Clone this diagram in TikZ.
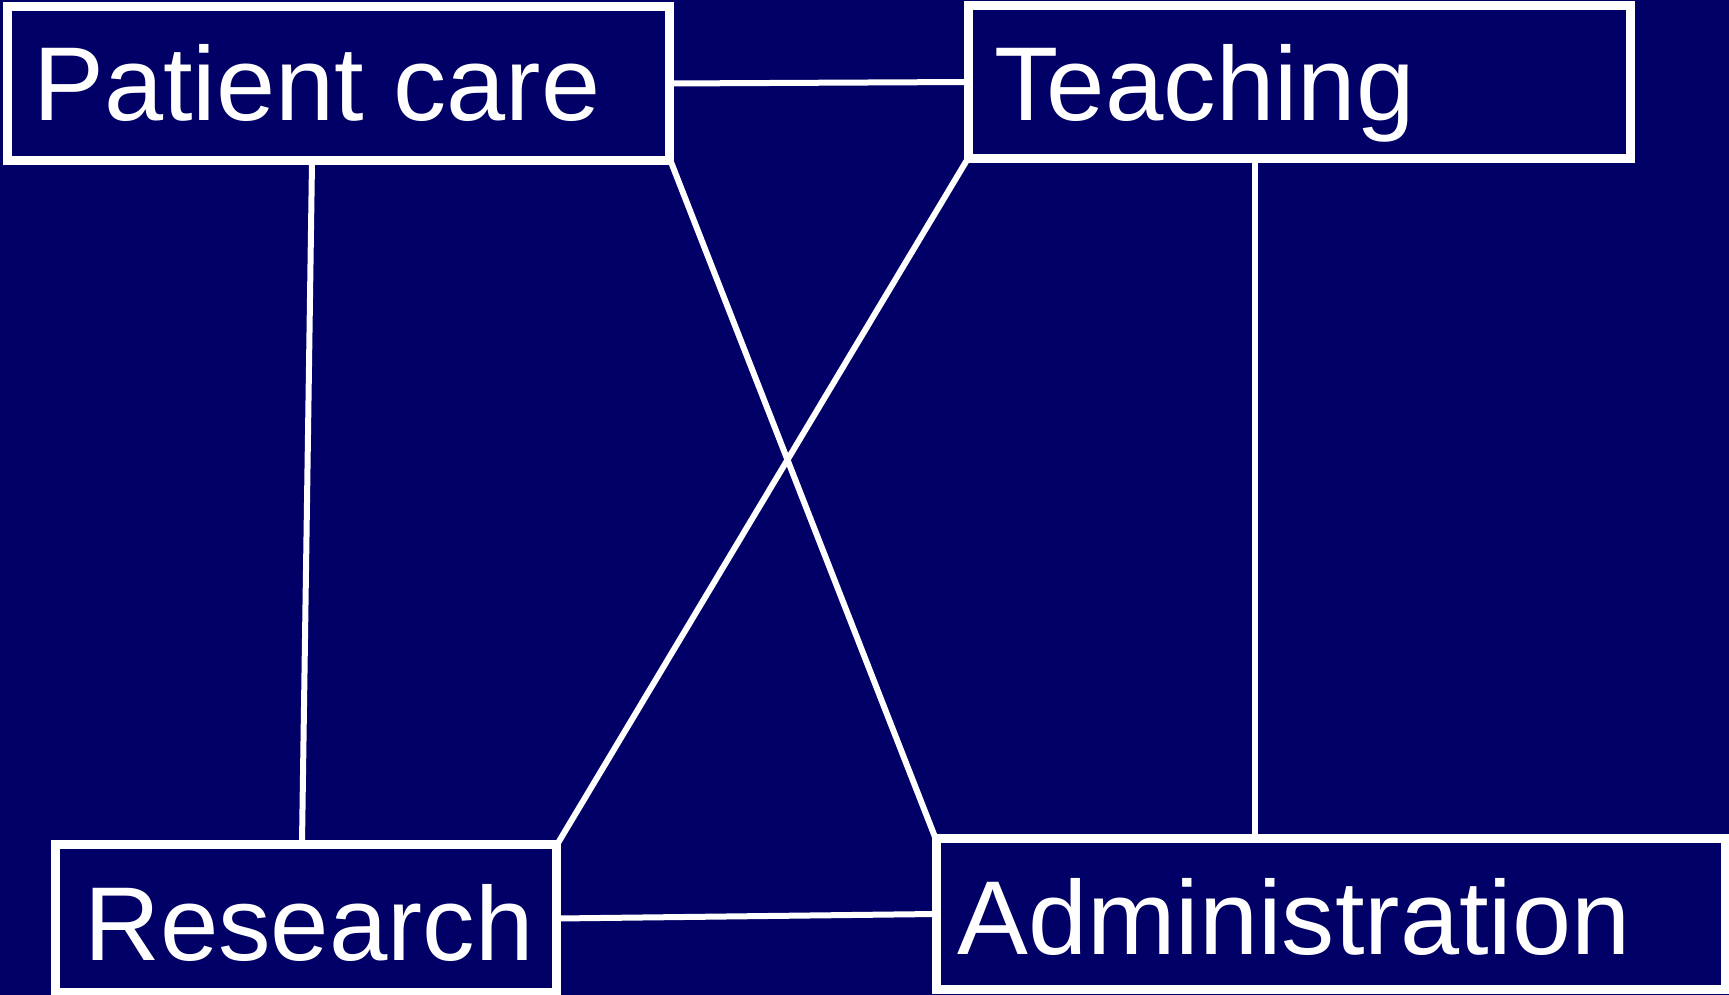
\documentclass[tikz,border=0pt]{standalone}
\usepackage{fontspec}
\setmainfont{Liberation Sans}
\definecolor{navy}{RGB}{0,0,102}
\begin{document}
\begin{tikzpicture}[x=1pt,y=-1pt,
  box/.style={draw=white,line width=6pt,rectangle,inner sep=0pt,fill=navy},
  lbl/.style={anchor=base west,inner sep=0pt,text=white,font=\fontsize{105}{120}\selectfont},
  conn/.style={draw=white,line width=6pt}]
\fill[navy] (0,0) rectangle (1729,995);
\useasboundingbox (0,0) rectangle (1729,995);
% boxes
\node[box,minimum width=659pt,minimum height=151pt] (pc) at (338.5,83.5) {};
\node[box,minimum width=659pt,minimum height=150pt] (te) at (1299.5,82) {};
\node[box,minimum width=498pt,minimum height=145pt] (re) at (306,918.5) {};
\node[box,minimum width=786pt,minimum height=148pt] (ad) at (1331,914) {};
% connectors
\draw[conn] (pc.east) -- (te.west);
\draw[conn] ([xshift=306pt]pc.south west) -- ([xshift=248pt]re.north west);
\draw[conn] (pc.south east) -- (ad.north west);
\draw[conn] (te.south west) -- (re.north east);
\draw[conn] ([xshift=288pt]te.south west) -- ([xshift=320pt]ad.north west);
\draw[conn] (re.east) -- (ad.west);
% redraw box borders on top
\foreach \n in {pc,te,re,ad}{\draw[white,line width=6pt] (\n.south west) rectangle (\n.north east);}
% labels
\node[lbl,xscale=1.012] (tpc) at (33,121) {Patient care};
\node[lbl] (tte) at (994,121) {Teaching};
\node[lbl] (tre) at (84,960) {Research};
\node[lbl,xscale=1.012] (tad) at (957,954) {Administration};
\end{tikzpicture}
\end{document}
